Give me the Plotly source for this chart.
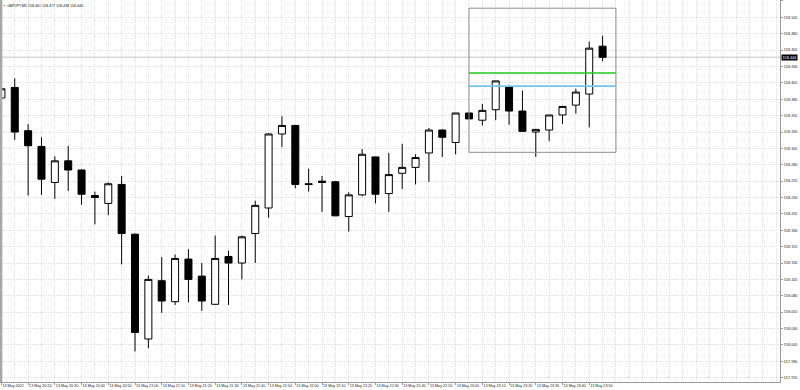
import pandas as pd
import plotly.graph_objects as go

# ---------------- data ----------------
symbol_title = "GBPJPY,M5 158.461 158.477 158.438 158.444"
times = pd.date_range("2022-05-13 20:10", periods=46, freq="5min")

opens = [158.382, 158.398, 158.332, 158.308, 158.253, 158.286, 158.272, 158.233, 158.221, 158.250,
         158.174, 158.014, 158.103, 158.071, 158.136, 158.110, 158.067, 158.140, 158.130, 158.175,
         158.214, 158.327, 158.340, 158.251, 158.255, 158.254, 158.201, 158.234, 158.292, 158.236,
         158.267, 158.276, 158.298, 158.333, 158.314, 158.359, 158.348, 158.364, 158.399, 158.362,
         158.330, 158.333, 158.356, 158.371, 158.388, 158.461]
highs = [158.402, 158.412, 158.342, 158.322, 158.293, 158.309, 158.273, 158.239, 158.253, 158.263,
         158.175, 158.111, 158.139, 158.143, 158.151, 158.130, 158.172, 158.149, 158.172, 158.225,
         158.328, 158.354, 158.341, 158.274, 158.263, 158.255, 158.238, 158.304, 158.292, 158.298,
         158.312, 158.296, 158.336, 158.334, 158.359, 158.359, 158.373, 158.408, 158.401, 158.393,
         158.334, 158.356, 158.370, 158.396, 158.468, 158.477]
lows = [158.349, 158.318, 158.233, 158.234, 158.228, 158.240, 158.219, 158.189, 158.203, 158.128,
        157.995, 158.000, 158.054, 158.066, 158.070, 158.057, 158.066, 158.066, 158.105, 158.130,
        158.199, 158.307, 158.244, 158.239, 158.208, 158.202, 158.178, 158.232, 158.221, 158.208,
        158.243, 158.250, 158.254, 158.292, 158.296, 158.350, 158.340, 158.348, 158.341, 158.331,
        158.292, 158.316, 158.342, 158.358, 158.337, 158.438]
closes = [158.396, 158.330, 158.309, 158.258, 158.286, 158.272, 158.235, 158.230, 158.251, 158.175,
          158.024, 158.105, 158.072, 158.137, 158.105, 158.072, 158.137, 158.130, 158.170, 158.218,
          158.327, 158.340, 158.250, 158.250, 158.253, 158.202, 158.234, 158.296, 158.235, 158.265,
          158.276, 158.291, 158.333, 158.322, 158.359, 158.350, 158.363, 158.408, 158.362, 158.331,
          158.334, 158.356, 158.369, 158.391, 158.458, 158.444]

bid_price = 158.444
box_start, box_end = "2022-05-13 23:05", "2022-05-14 00:00"
box_low, box_high = 158.299, 158.519
green_level = 158.420
blue_level = 158.400

xtick_times = ["2022-05-13 20:10", "2022-05-13 20:20", "2022-05-13 20:30", "2022-05-13 20:40",
               "2022-05-13 20:50", "2022-05-13 21:00", "2022-05-13 21:10", "2022-05-13 21:20",
               "2022-05-13 21:30", "2022-05-13 21:40", "2022-05-13 21:50", "2022-05-13 22:00",
               "2022-05-13 22:10", "2022-05-13 22:20", "2022-05-13 22:30", "2022-05-13 22:40",
               "2022-05-13 22:50", "2022-05-13 23:00", "2022-05-13 23:10", "2022-05-13 23:20",
               "2022-05-13 23:30", "2022-05-13 23:40", "2022-05-13 23:50"]
xtick_labels = ["13 May 2022", "13 May 20:20", "13 May 20:30", "13 May 20:40", "13 May 20:50",
                "13 May 21:00", "13 May 21:10", "13 May 21:20", "13 May 21:30", "13 May 21:40",
                "13 May 21:50", "13 May 22:00", "13 May 22:10", "13 May 22:20", "13 May 22:30",
                "13 May 22:40", "13 May 22:50", "13 May 23:00", "13 May 23:10", "13 May 23:20",
                "13 May 23:30", "13 May 23:40", "13 May 23:50"]
ytick_values = [157.955, 157.980, 158.005, 158.030, 158.055, 158.080, 158.105, 158.130, 158.155,
                158.180, 158.205, 158.230, 158.255, 158.280, 158.305, 158.330, 158.355, 158.380,
                158.405, 158.430, 158.455, 158.480, 158.505, 158.530]
ytick_labels = ["157.955", "157.980", "158.005", "158.030", "158.055", "158.080", "158.105",
                "158.130", "158.155", "158.180", "158.205", "158.230", "158.255", "158.280",
                "158.305", "158.330", "158.355", "158.380", "158.405", "158.430", "158.455",
                "158.480", "158.505", "158.530"]

# ---------------- figure ----------------
FONT = "Liberation Sans"
GRID = "#dedede"
GRID_DASH = "1px,1px"
AXIS = "#9a9a9a"

fig = go.Figure()
fig.add_trace(go.Candlestick(
    x=times, open=opens, high=highs, low=lows, close=closes,
    increasing=dict(fillcolor="white", line=dict(color="black", width=1)),
    decreasing=dict(fillcolor="black", line=dict(color="black", width=1)),
    whiskerwidth=0, hoverinfo="skip", showlegend=False,
))

shapes = [
    # bid line
    dict(type="line", xref="paper", x0=0, x1=1, yref="y", y0=bid_price, y1=bid_price,
         line=dict(color="#d8d8d8", width=1.5), layer="below"),
    # rectangle object
    dict(type="rect", xref="x", x0=box_start, x1=box_end, yref="y", y0=box_low, y1=box_high,
         line=dict(color="#8c8c8c", width=1), fillcolor="rgba(0,0,0,0)"),
    dict(type="line", xref="x", x0=box_start, x1=box_end, yref="y", y0=green_level, y1=green_level,
         line=dict(color="#1ecb1e", width=1.6)),
    dict(type="line", xref="x", x0=box_start, x1=box_end, yref="y", y0=blue_level, y1=blue_level,
         line=dict(color="#74c4ee", width=1.6)),
    # left window border
    dict(type="rect", xref="paper", x0=0, x1=0.003, yref="paper", y0=0, y1=1,
         line=dict(width=0), fillcolor="#a8a8a8"),
]

annotations = [
    dict(xref="paper", yref="paper", x=0, y=1, xanchor="left", yanchor="top", xshift=2, yshift=-2,
         text="▪  " + symbol_title, showarrow=False, font=dict(family=FONT, size=3.6, color="#111")),
    dict(xref="paper", yref="y", x=1, y=bid_price, xanchor="left", yanchor="middle", xshift=1,
         text=f"{bid_price:.3f}", showarrow=False, bgcolor="black", borderpad=0.5,
         font=dict(family=FONT, size=3.8, color="white")),
]

fig.update_layout(
    width=800, height=390,
    margin=dict(l=0, r=20, t=0, b=8, autoexpand=False),
    paper_bgcolor="white", plot_bgcolor="white",
    boxgap=0.25,
    shapes=shapes, annotations=annotations,
    hovermode=False,
    xaxis=dict(
        type="date",
        range=["2022-05-13 20:09:28.5", "2022-05-14 01:01:24"],
        rangeslider=dict(visible=False),
        tickvals=xtick_times, ticktext=xtick_labels,
        tickfont=dict(family=FONT, size=3.7, color="#222"),
        tickangle=0, automargin=False,
        ticks="outside", ticklen=2, tickcolor=AXIS,
        ticklabelposition="outside right",
        showgrid=True, gridcolor=GRID, griddash=GRID_DASH, gridwidth=1,
        minor=dict(dtick=300000, tick0="2022-05-13 20:10", showgrid=True,
                   gridcolor=GRID, griddash=GRID_DASH, gridwidth=1),
        showline=True, linecolor=AXIS, linewidth=1, mirror=True,
        zeroline=False,
    ),
    yaxis=dict(
        side="right",
        range=[157.94838, 158.5315],
        tickvals=ytick_values, ticktext=ytick_labels,
        tickfont=dict(family=FONT, size=3.8, color="#222"),
        automargin=False,
        ticks="outside", ticklen=2, tickcolor=AXIS,
        showgrid=True, gridcolor=GRID, griddash=GRID_DASH, gridwidth=1,
        showline=True, linecolor=AXIS, linewidth=1, mirror=True,
        zeroline=False,
    ),
)

fig.write_html("out.html", config={"displayModeBar": False})
